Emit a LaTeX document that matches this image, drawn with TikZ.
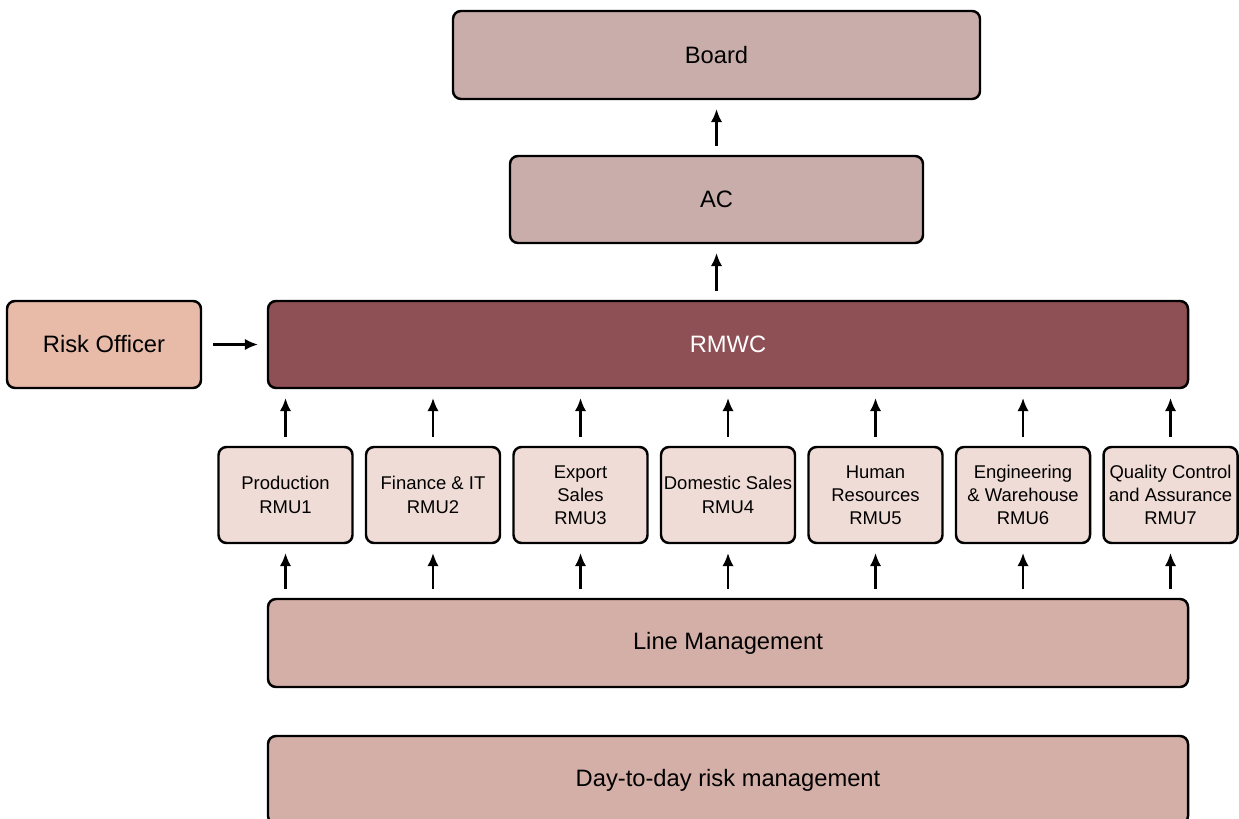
\documentclass[tikz,border=0pt]{standalone}
\usepackage{fontspec}
\setmainfont{Liberation Sans}
\usepackage{xcolor}
\usepackage{tikz}
\usetikzlibrary{positioning, arrows.meta}

\definecolor{boardfill}{HTML}{C9ADAB}
\definecolor{rmwcfill}{HTML}{8E4F55}
\definecolor{officerfill}{HTML}{E8BAA8}
\definecolor{unitfill}{HTML}{F0DCD6}
\definecolor{linefill}{HTML}{D4AFA7}

\begin{document}
\begin{tikzpicture}[>={Latex[length=7.5pt,width=6.5pt]},
    box/.style={draw, line width=1.4pt, rounded corners=0.16cm, inner sep=0pt, outer sep=0pt, align=center,
        font=\fontsize{13.5}{16}\selectfont},
    unit/.style={box, fill=unitfill, minimum width=2.68cm, minimum height=1.92cm,
        font=\fontsize{10.5}{13.2}\selectfont},
    up/.style={->, line width=1.3pt, shorten <=0.2cm, shorten >=0.2cm}]
        \useasboundingbox (0,0) rectangle (24.78,-16.38);

        % Nodes
        \node (board) [box, fill=boardfill, minimum width=10.54cm, minimum height=1.76cm] at (14.33,-1.1) {Board};
        \node (ac) [box, fill=boardfill, below=1.14cm of board, minimum width=8.26cm, minimum height=1.74cm] {AC};
        \node (rmwc) [box, fill=rmwcfill, text=white, below=1.16cm of ac, xshift=0.23cm, minimum width=18.4cm, minimum height=1.74cm] {RMWC};
        \node (officer) [box, fill=officerfill, left=1.34cm of rmwc, minimum width=3.88cm, minimum height=1.74cm] {Risk Officer};

        \node (rmu4) [unit, below=1.18cm of rmwc] {Domestic Sales\\RMU4};
        \node (rmu3) [unit, left=0.27cm of rmu4] {Export\\Sales\\RMU3};
        \node (rmu2) [unit, left=0.27cm of rmu3] {Finance \& IT\\RMU2};
        \node (rmu1) [unit, left=0.27cm of rmu2] {Production\\RMU1};
        \node (rmu5) [unit, right=0.27cm of rmu4] {Human\\Resources\\RMU5};
        \node (rmu6) [unit, right=0.27cm of rmu5] {Engineering\\\& Warehouse\\RMU6};
        \node (rmu7) [unit, right=0.27cm of rmu6] {Quality Control\\and Assurance\\RMU7};

        \node (lm) [box, fill=linefill, below=1.12cm of rmu4, minimum width=18.4cm, minimum height=1.76cm] {Line Management};
        \node (daily) [box, fill=linefill, below=0.98cm of lm, minimum width=18.4cm, minimum height=1.76cm] {Day-to-day risk management};

        % Arrows
        \draw[up] (ac) -- (board);
        \draw[up] (rmwc.north -| ac.north) -- (ac);
        \draw[up, shorten <=0.24cm] (officer) -- (rmwc);
        \foreach \u in {rmu1,rmu2,rmu3,rmu4,rmu5,rmu6,rmu7} {
            \draw[up] (\u) -- (\u |- rmwc.south);
            \draw[up] (\u |- lm.north) -- (\u);
        }

    \end{tikzpicture}
\end{document}
